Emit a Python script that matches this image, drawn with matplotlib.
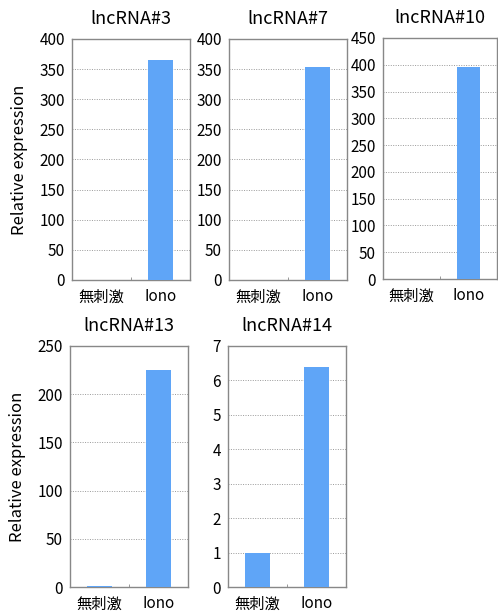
import matplotlib
matplotlib.use("Agg")
import matplotlib.pyplot as plt

plt.rcParams['font.family'] = ['Noto Sans CJK JP', 'DejaVu Sans']

categories = ['無刺激', 'Iono']
titles = ['lncRNA#3', 'lncRNA#7', 'lncRNA#10', 'lncRNA#13', 'lncRNA#14']
values = [
    [0, 365],
    [0, 353],
    [0, 395],
    [1, 225],
    [1, 6.4],
]
ymax = [400, 400, 450, 250, 7]
ystep = [50, 50, 50, 50, 1]

bar_color = '#5fa5f7'
W, H = 498, 613

# axes boxes in pixels: left, top, right, bottom
boxes = [
    (72, 39, 190, 280),
    (229, 39, 347, 280),
    (383, 38, 497, 279),
    (70, 346, 188, 587),
    (228, 346, 346, 587),
]

fig = plt.figure(figsize=(W / 100, H / 100), dpi=100)

for i, (l, t, r, b) in enumerate(boxes):
    ax = fig.add_axes([l / W, 1 - b / H, (r - l) / W, (b - t) / H])
    ax.bar([0, 1], values[i], width=0.41, color=bar_color, zorder=3)
    ax.set_xlim(-0.5, 1.5)
    ax.set_ylim(0, ymax[i])
    ticks = [k * ystep[i] for k in range(int(round(ymax[i] / ystep[i])) + 1)]
    ax.set_yticks(ticks)
    ax.set_yticklabels([str(int(v)) for v in ticks])
    ax.set_xticks([0, 1])
    ax.set_xticklabels(categories)
    ax.set_xticks([0.5], minor=True)
    ax.tick_params(axis='x', which='minor', length=2, direction='in', color='#888888')
    ax.yaxis.grid(True, linestyle=(0, (1, 1.5)), color='#999999', linewidth=0.7, zorder=0)
    ax.tick_params(axis='both', which='major', length=0, labelsize=11, colors='black')
    ax.tick_params(axis='y', pad=5)
    ax.tick_params(axis='x', which='major', pad=6)
    for s in ax.spines.values():
        s.set_color('#888888')
        s.set_linewidth(1)
    ax.set_title(titles[i], fontsize=13, pad=11)
    if i in (0, 3):
        ax.set_ylabel('Relative expression', fontsize=12, labelpad=8)

fig.savefig('out.png', dpi=100)
